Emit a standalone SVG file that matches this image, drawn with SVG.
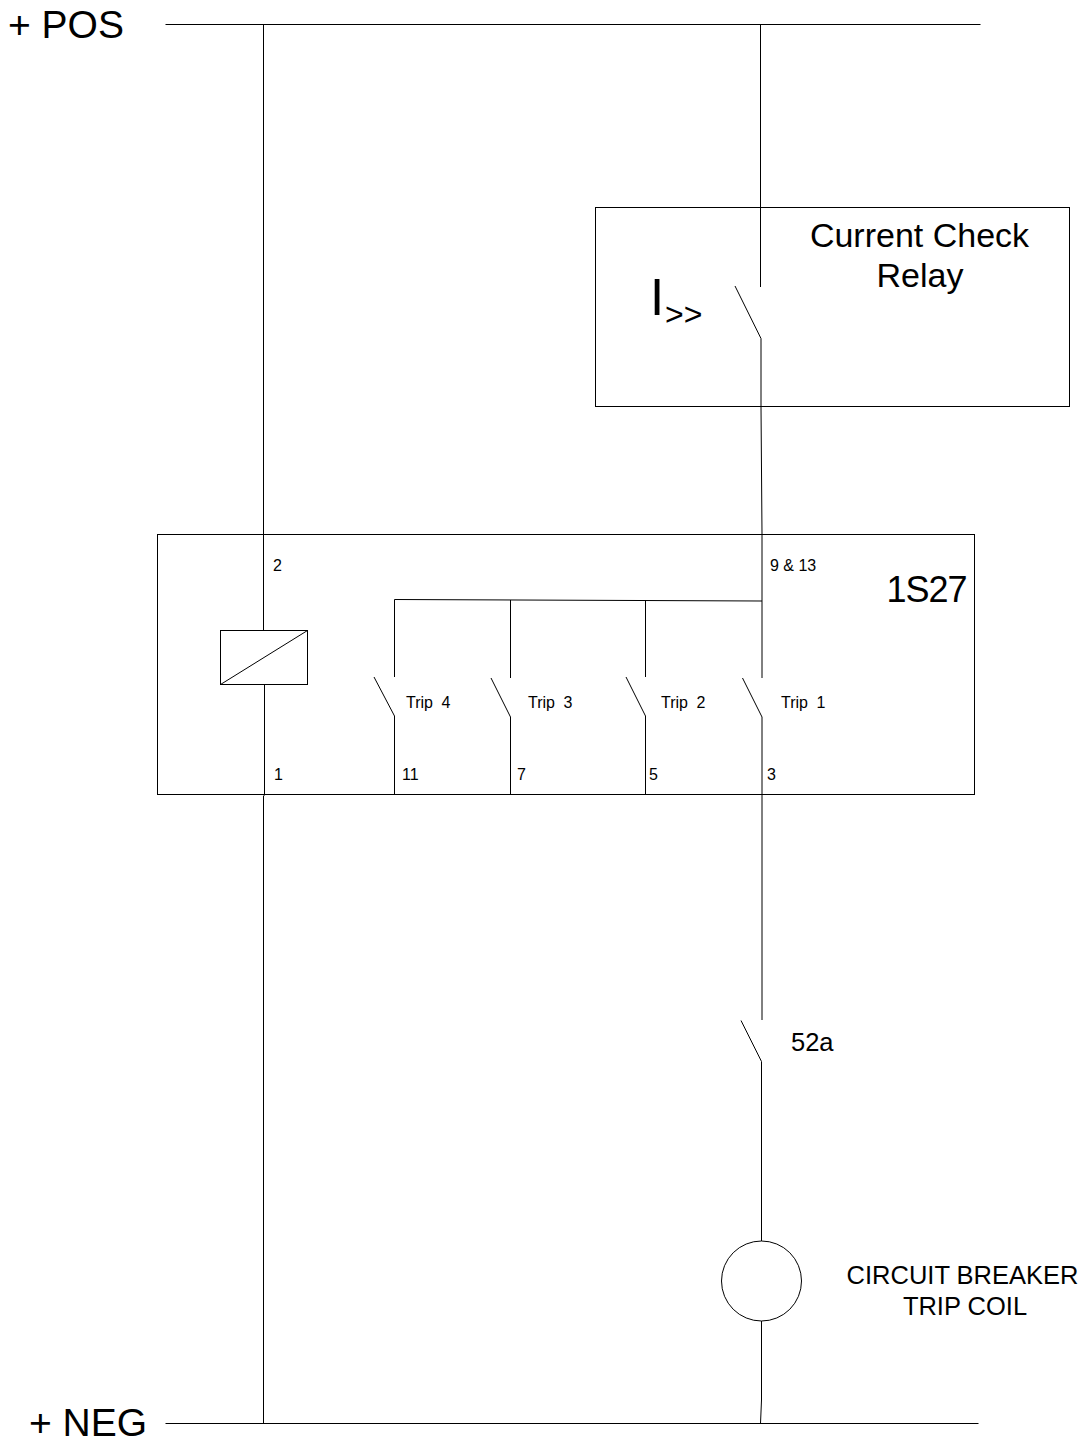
<svg xmlns="http://www.w3.org/2000/svg" width="1089" height="1438" viewBox="0 0 1089 1438">
<style>
text{font-family:"Liberation Sans",Arial,sans-serif;fill:#000}
.w{fill:none;stroke:#000;stroke-width:1}
.s{font-size:16px}
.t{font-size:16px;word-spacing:4px}
.m{font-size:25.500px}
.l{font-size:34px}
.h{font-size:39px}
.c{text-anchor:middle}
</style>
<rect width="1089" height="1438" fill="#fff"/>
<g id="connectors" class="w">
<path d="M165.500 24.500H980.500"/>
<path d="M165.500 1423.500H978.500"/>
<path d="M263.500 24.500V630"/>
<path d="M264.500 684V795L263.500 796V1423.500"/>
<path d="M760.500 24.500V287"/>
<path d="M735 286L761 338.500V407L762 534V678"/>
<path d="M394.500 677V599.500L762 601"/>
<path d="M510.500 600V678"/>
<path d="M645.500 600V677"/>
<path d="M374 677L394.500 716V795"/>
<path d="M491 678L510.500 717V795"/>
<path d="M626 677L645.500 716V795"/>
<path d="M742.500 678L762 717V1020"/>
<path d="M741 1020.500L761.500 1061.500V1241"/>
<path d="M761.500 1321V1400L760.500 1423.500"/>
</g>
<g id="current-check-relay">
<rect class="w" x="595.500" y="207.500" width="474" height="199"/>
<text class="l c" x="919.500" y="247">Current Check</text>
<text class="l c" x="920" y="287">Relay</text>
<text x="650" y="315" font-size="51">I</text>
<text x="665" y="325" font-size="32">&gt;&gt;</text>
</g>
<g id="relay-1s27">
<rect class="w" x="157.500" y="534.500" width="817" height="260"/>
<text class="s" x="273" y="571">2</text>
<text class="s" x="274" y="780">1</text>
<text class="s" x="402" y="780">11</text>
<text class="s" x="517" y="780">7</text>
<text class="s" x="649" y="780">5</text>
<text class="s" x="767" y="780">3</text>
<text class="s" x="770" y="571">9 &amp; 13</text>
<text class="t" x="406" y="708">Trip 4</text>
<text class="t" x="528" y="708">Trip 3</text>
<text class="t" x="661" y="708">Trip 2</text>
<text class="t" x="781" y="708">Trip 1</text>
<text x="886.500" y="602" font-size="36" letter-spacing="-1">1S27</text>
</g>
<g id="coil">
<rect class="w" x="220.500" y="630.500" width="87" height="54"/>
<path class="w" d="M220.500 684.500L307.500 630.500"/>
</g>
<g id="contact-52a">
<text class="m" x="791" y="1051">52a</text>
</g>
<g id="trip-coil">
<circle class="w" cx="761.500" cy="1281" r="40"/>
<text class="m c" x="962.500" y="1284">CIRCUIT BREAKER</text>
<text class="m c" x="965" y="1315">TRIP COIL</text>
</g>
<g id="pos-label"><text class="h" x="8" y="38">+ POS</text></g>
<g id="neg-label"><text class="h" x="29" y="1436">+ NEG</text></g>
</svg>
